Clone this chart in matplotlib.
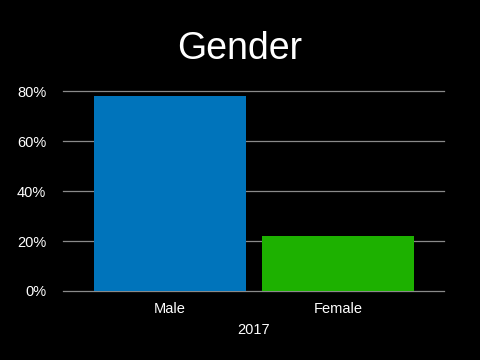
import matplotlib
matplotlib.use("Agg")
import matplotlib.pyplot as plt
from matplotlib.ticker import PercentFormatter

categories = ["Male", "Female"]
shares = [78, 22]
colors = ["#0074BB", "#1DB100"]
yticks = [0, 20, 40, 60, 80]

plt.rcParams['font.family'] = ['Liberation Sans', 'DejaVu Sans']

fig = plt.figure(figsize=(4.8, 3.6), dpi=100, facecolor="black")
ax = fig.add_axes([0.131, 0.192, 0.794, 0.554], facecolor="black")

x = range(len(categories))
ax.bar(x, shares, width=0.905, color=colors, zorder=3)

ax.set_ylim(0, 80)
ax.set_xlim(-0.637, 1.63)
ax.set_yticks(yticks)
ax.yaxis.set_major_formatter(PercentFormatter(decimals=0))
ax.set_xticks(list(x))
ax.set_xticklabels(categories)
ax.grid(axis="y", color="#8a8a8a", lw=0.9, zorder=0)
for gl in ax.get_ygridlines():
    gl.set_clip_on(False)
ax.set_axisbelow(True)
for s in ax.spines.values():
    s.set_visible(False)
ax.tick_params(length=0, colors="white", labelsize=10.5)
ax.tick_params(axis="x", pad=8)
ax.tick_params(axis="y", pad=12)
ax.set_xlabel("2017", color="white", fontsize=10.5, labelpad=5)

fig.text(0.5, 0.865, "Gender", color="white", fontsize=27, ha="center", va="center")

fig.savefig("out.png", dpi=100, facecolor="black")
